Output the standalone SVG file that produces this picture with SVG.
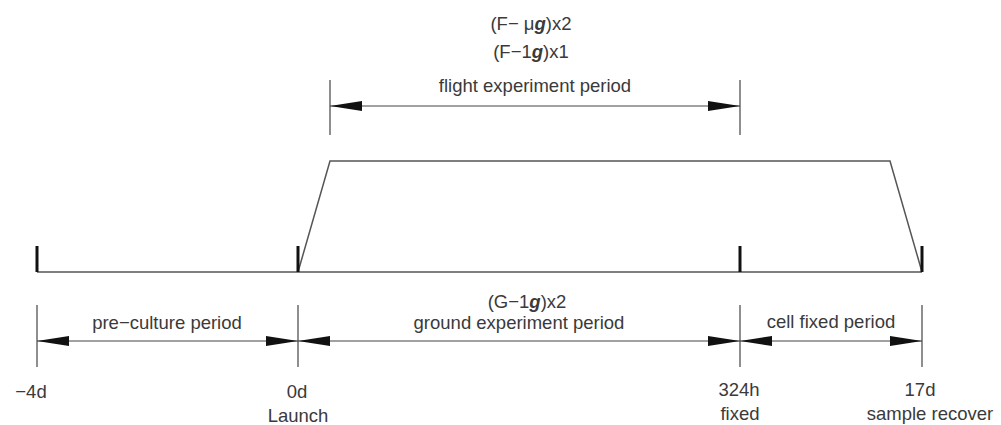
<svg xmlns="http://www.w3.org/2000/svg" width="1001" height="425" viewBox="0 0 1001 425">
<style>
.t{font-family:"Liberation Sans","DejaVu Sans",sans-serif;font-size:18.5px;fill:#3a3a3a;text-anchor:middle}
.g{font-weight:bold;font-style:italic}
.ln{stroke:#555;stroke-width:1.5;fill:none}
.tk{stroke:#111;stroke-width:3}
.dim{stroke:#444;stroke-width:1.2;fill:none;marker-start:url(#ah);marker-end:url(#ah)}
.ext{stroke:#444;stroke-width:1.2}
</style>
<defs>
<marker id="ah" markerUnits="userSpaceOnUse" markerWidth="32" markerHeight="10" refX="32" refY="5" orient="auto-start-reverse" viewBox="0 0 32 10">
<path d="M0,0 L32,5 L0,10 z" fill="#111"/>
</marker>
</defs>
<rect width="1001" height="425" fill="#fff"/>
<g id="timeline">
<line class="ln" x1="37" y1="272" x2="922" y2="272"/>
<polyline class="ln" points="298,272 330,161 890,161 922,272"/>
<line class="tk" x1="37" y1="246" x2="37" y2="272"/>
<line class="tk" x1="298" y1="246" x2="298" y2="272"/>
<line class="tk" x1="740" y1="246" x2="740" y2="272"/>
<line class="tk" x1="922" y1="246" x2="922" y2="272"/>
</g>
<g id="connectors">
<line class="ext" x1="330" y1="80" x2="330" y2="135"/>
<line class="ext" x1="740" y1="80" x2="740" y2="135"/>
<line class="dim" x1="330" y1="106" x2="740" y2="106"/>
<line class="ext" x1="37" y1="305" x2="37" y2="367"/>
<line class="ext" x1="298" y1="305" x2="298" y2="367"/>
<line class="ext" x1="740" y1="305" x2="740" y2="367"/>
<line class="ext" x1="922" y1="305" x2="922" y2="367"/>
<line class="dim" x1="37" y1="341" x2="298" y2="341"/>
<line class="dim" x1="298" y1="341" x2="740" y2="341"/>
<line class="dim" x1="740" y1="341" x2="922" y2="341"/>
</g>
<g id="flight">
<text class="t" x="531" y="30">(F− μ<tspan class="g">g</tspan>)x2</text>
<text class="t" x="531" y="58">(F−1<tspan class="g">g</tspan>)x1</text>
<text class="t" x="535" y="92">flight experiment period</text>
</g>
<g id="preculture">
<text class="t" x="167" y="329">pre−culture period</text>
</g>
<g id="ground">
<text class="t" x="527" y="308">(G−1<tspan class="g">g</tspan>)x2</text>
<text class="t" x="519" y="329">ground experiment period</text>
</g>
<g id="cellfixed">
<text class="t" x="831" y="328">cell fixed period</text>
</g>
<g id="labels">
<text class="t" x="31" y="398">−4d</text>
<text class="t" x="297" y="398">0d</text>
<text class="t" x="298" y="422">Launch</text>
<text class="t" x="739" y="396">324h</text>
<text class="t" x="740" y="420">fixed</text>
<text class="t" x="920" y="396">17d</text>
<text class="t" x="930" y="420">sample recover</text>
</g>
</svg>
